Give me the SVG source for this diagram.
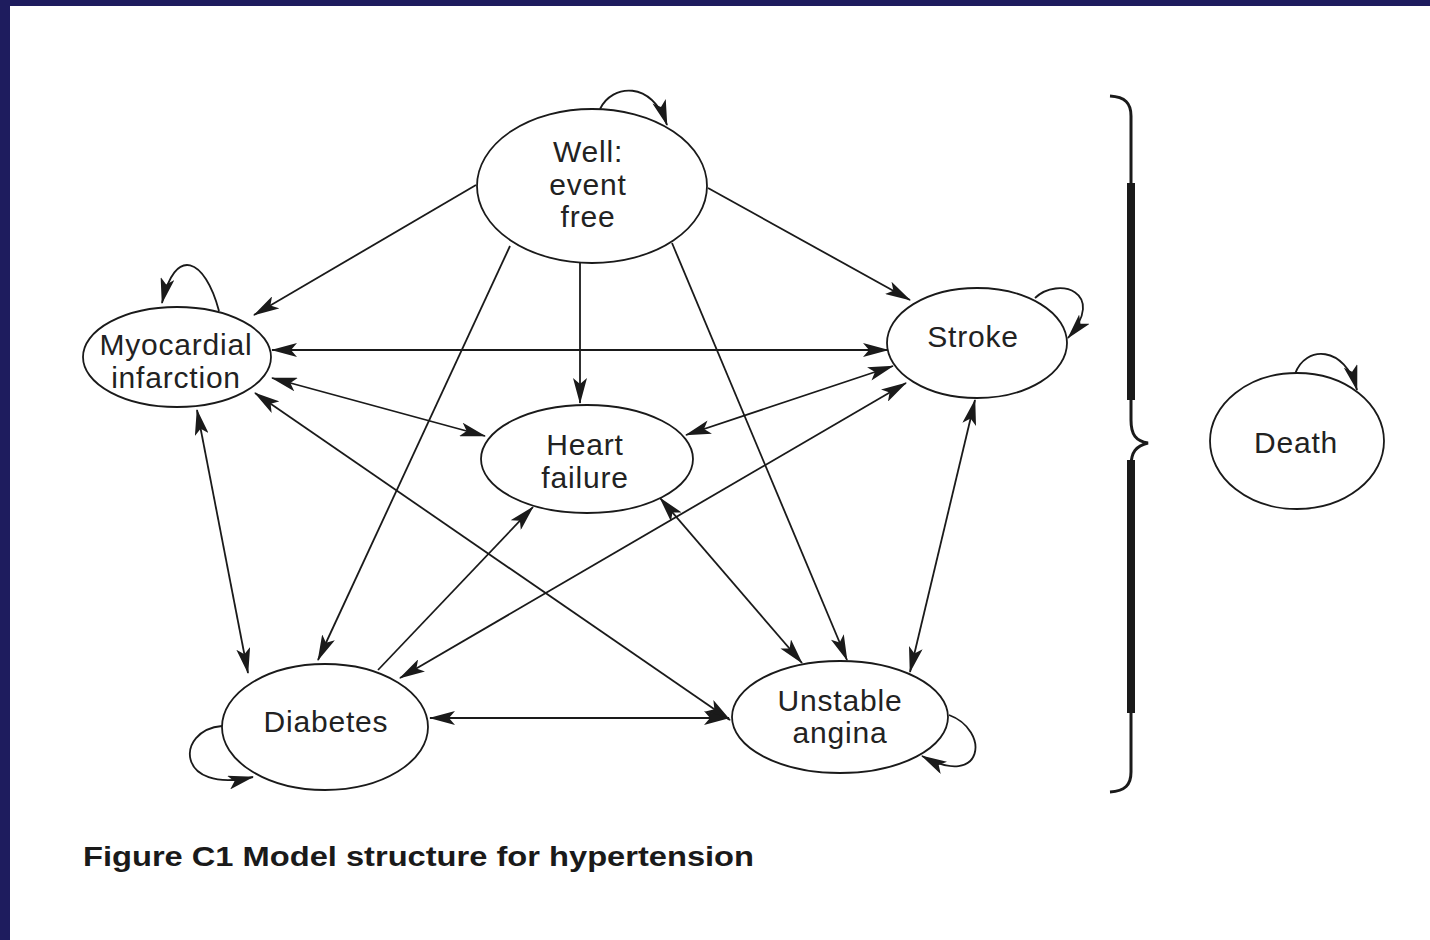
<svg xmlns="http://www.w3.org/2000/svg" width="1430" height="940" viewBox="0 0 1430 940">
<style>
.node ellipse{fill:#fff;stroke:#1a1a1a;stroke-width:1.8}
.lbl{font-family:"Liberation Sans",Arial,sans-serif;font-size:30px;fill:#222;text-anchor:middle;letter-spacing:0.8px}
.edge{fill:none;stroke:#1a1a1a;stroke-width:1.8}
.uni{marker-end:url(#ah)}
.bi{marker-start:url(#ah);marker-end:url(#ah)}
.cap{font-family:"Liberation Sans",Arial,sans-serif;font-size:28px;font-weight:bold;fill:#1a1a1a}
</style>
<defs>
<marker id="ah" viewBox="0 0 26 14" refX="25" refY="7" markerWidth="26" markerHeight="14" markerUnits="userSpaceOnUse" orient="auto-start-reverse">
<path d="M0,0 L26,7 L0,14 L6,7 z" fill="#1a1a1a"/>
</marker>
</defs>
<rect x="0" y="0" width="1430" height="940" fill="#fff"/>
<rect x="0" y="0" width="1430" height="6" fill="#1e1c5e"/>
<rect x="0" y="0" width="10" height="940" fill="#1e1c5e"/>

<g id="connectors">
<line class="edge uni" x1="476" y1="185" x2="254" y2="315"/>
<line class="edge uni" x1="708" y1="188" x2="910" y2="300"/>
<line class="edge uni" x1="580" y1="263" x2="580" y2="403"/>
<line class="edge uni" x1="510" y1="246" x2="318" y2="660"/>
<line class="edge uni" x1="672" y1="243" x2="847" y2="660"/>
<line class="edge bi" x1="272" y1="350" x2="888" y2="350"/>
<line class="edge bi" x1="272" y1="378" x2="485" y2="436"/>
<line class="edge bi" x1="197" y1="410" x2="248" y2="673"/>
<line class="edge bi" x1="255" y1="393" x2="730" y2="720"/>
<line class="edge bi" x1="893" y1="366" x2="686" y2="435"/>
<line class="edge bi" x1="906" y1="383" x2="400" y2="678"/>
<line class="edge bi" x1="975" y1="400" x2="910" y2="672"/>
<line class="edge bi" x1="660" y1="498" x2="802" y2="663"/>
<line class="edge uni" x1="378" y1="670" x2="533" y2="507"/>
<line class="edge bi" x1="430" y1="718" x2="729" y2="718"/>
<path class="edge uni" d="M600,109 C612,84 652,80 667,125"/>
<path class="edge uni" d="M219,311 C205,258 175,245 162,303"/>
<path class="edge uni" d="M1035,298 C1058,276 1108,292 1068,338"/>
<path class="edge uni" d="M222,726 C175,730 175,795 253,777"/>
<path class="edge uni" d="M949,715 C990,730 985,790 922,756"/>
<path class="edge uni" d="M1295,374 C1305,345 1345,345 1357,390"/>
</g>

<g id="well" class="node">
<ellipse cx="592" cy="186" rx="115" ry="77"/>
<text class="lbl" x="588" y="162">Well:</text>
<text class="lbl" x="588" y="195">event</text>
<text class="lbl" x="588" y="227">free</text>
</g>
<g id="mi" class="node">
<ellipse cx="177" cy="357" rx="94" ry="50"/>
<text class="lbl" x="176" y="355">Myocardial</text>
<text class="lbl" x="176" y="388">infarction</text>
</g>
<g id="stroke" class="node">
<ellipse cx="977" cy="343" rx="90" ry="55"/>
<text class="lbl" x="973" y="347">Stroke</text>
</g>
<g id="heart" class="node">
<ellipse cx="587" cy="459" rx="106" ry="54"/>
<text class="lbl" x="585" y="455">Heart</text>
<text class="lbl" x="585" y="488">failure</text>
</g>
<g id="diabetes" class="node">
<ellipse cx="325" cy="727" rx="103" ry="63"/>
<text class="lbl" x="326" y="732">Diabetes</text>
</g>
<g id="angina" class="node">
<ellipse cx="840" cy="717" rx="108" ry="56"/>
<text class="lbl" x="840" y="711">Unstable</text>
<text class="lbl" x="840" y="743">angina</text>
</g>
<g id="death" class="node">
<ellipse cx="1297" cy="441" rx="87" ry="68"/>
<text class="lbl" x="1296" y="453">Death</text>
</g>

<g id="brace">
<path d="M1110,96 C1125,97 1131,103 1131,116 L1131,420 C1131,435 1136,441 1148,443 C1136,446 1131,452 1131,466 L1131,772 C1131,785 1125,791 1110,792" fill="none" stroke="#1a1a1a" stroke-width="3"/>
<rect x="1127" y="183" width="8" height="217" fill="#1a1a1a"/>
<rect x="1127" y="460" width="8" height="253" fill="#1a1a1a"/>
</g>

<text class="cap" x="83" y="866" textLength="671" lengthAdjust="spacingAndGlyphs">Figure C1 Model structure for hypertension</text>
</svg>
